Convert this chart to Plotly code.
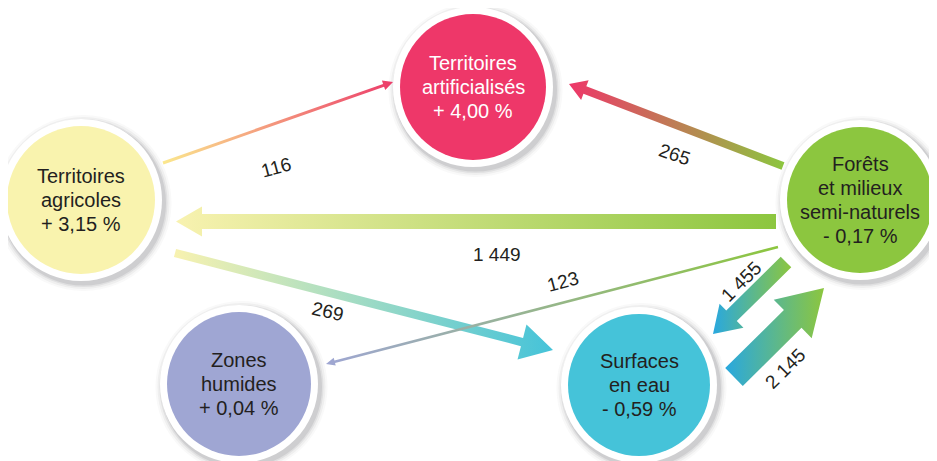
import math
import plotly.graph_objects as go

W, H = 937, 461
PAD = 8  # marge par défaut du <body> dans la page html

# --- données ---
node_names = [
    "Territoires<br>artificialisés",
    "Territoires<br>agricoles",
    "Forêts<br>et milieux<br>semi-naturels",
    "Zones<br>humides",
    "Surfaces<br>en eau",
]
node_change = [4.00, 3.15, -0.17, 0.04, -0.59]

# flux entre postes (indices dans node_names)
flow_src = [1, 2, 2, 1, 2, 2, 4]
flow_dst = [0, 0, 1, 4, 3, 4, 2]
flow_val = [116, 265, 1449, 269, 123, 1455, 2145]

# --- mise en page (pixels) ---
node_pos = [(473, 87), (81, 200), (860, 200), (239, 384), (639, 385)]
node_r = [73, 74, 73, 72, 71]
node_fill = ["#ee3769", "#f9f3ae", "#8cc63f", "#9fa6d3", "#45c3d9"]
node_font = ["white", "#231f20", "#231f20", "#231f20", "#231f20"]

# flèches : départ, pointe, largeur du trait, largeur / longueur de la tête
arrow_geom = [
    ((163, 163), (393, 82), 3, 10, 10),
    ((783, 166), (569, 84), 8, 21, 17),
    ((776, 221.5), (176, 221.5), 15, 30, 26),
    ((175, 253), (553, 350), 8.5, 36, 32),
    ((778, 247), (326, 364), 2.5, 8, 9),
    ((786, 262), (713, 334), 15, 34, 26),
    ((734, 377), (824, 288), 25, 54, 44),
]
arrow_colors = [
    ("#fbe88e", "#ec3d6a"),
    ("#8cc63f", "#ee3769"),
    ("#8cc63f", "#f8f2b0"),
    ("#f8f2b0", "#45c3d9"),
    ("#8cc63f", "#9fa6d3"),
    ("#8cc63f", "#29a8df"),
    ("#29a8df", "#8cc63f"),
]
label_pos = [(276, 167), (675, 154), (497, 254), (328, 311), (563, 281), (741, 281), (785, 368)]
label_angle = [-15, 19, 0, 13, -15, -45, -45]

FONT = "Liberation Sans, Arial, sans-serif"
INK = "#231f20"


def fmt_pct(v):
    sign = "+" if v >= 0 else "-"
    return f"{sign} {abs(v):.2f} %".replace(".", ",")


def fmt_int(v):
    return f"{v:,}".replace(",", " ")


def arrow_poly(start, tip, w, hw, hl):
    x0, y0 = start
    x1, y1 = tip
    L = math.hypot(x1 - x0, y1 - y0)
    ux, uy = (x1 - x0) / L, (y1 - y0) / L
    nx, ny = -uy, ux
    bx, by = x1 - ux * hl, y1 - uy * hl
    pts = [
        (x0 + nx * w / 2, y0 + ny * w / 2),
        (bx + nx * w / 2, by + ny * w / 2),
        (bx + nx * hw / 2, by + ny * hw / 2),
        (x1, y1),
        (bx - nx * hw / 2, by - ny * hw / 2),
        (bx - nx * w / 2, by - ny * w / 2),
        (x0 - nx * w / 2, y0 - ny * w / 2),
    ]
    pts.append(pts[0])
    return [p[0] for p in pts], [p[1] for p in pts]


def circle(cx, cy, r, color, dx=0, dy=0):
    return dict(type="circle", xref="x", yref="y", layer="below",
                x0=cx - r + dx, x1=cx + r + dx, y0=cy - r + dy, y1=cy + r + dy,
                fillcolor=color, line_width=0)


fig = go.Figure()
shapes = []
annotations = []

# cercles : ombre douce, anneau blanc, disque coloré
for (cx, cy), r, col in zip(node_pos, node_r, node_fill):
    for d, a in [(14, 0.03), (12, 0.05), (10, 0.08), (8.5, 0.10)]:
        shapes.append(circle(cx, cy, r + d, f"rgba(50,50,60,{a})", 2.5, 3))
    shapes.append(circle(cx, cy, r + 7, "white"))
    shapes.append(circle(cx, cy, r, col))

for name, chg, (cx, cy), fc in zip(node_names, node_change, node_pos, node_font):
    lines = name.split("<br>") + [fmt_pct(chg)]
    n = len(lines)
    for k, line in enumerate(lines):
        annotations.append(dict(x=cx, y=cy + (k - (n - 1) / 2) * 24, xref="x", yref="y",
                                showarrow=False, text=line,
                                font=dict(size=20, color=fc, family=FONT)))

# flèches en dégradé
for i, val in enumerate(flow_val):
    start, tip, w, hw, hl = arrow_geom[i]
    c0, c1 = arrow_colors[i]
    xs, ys = arrow_poly(start, tip, w, hw, hl)
    cs = [[0, c0], [1, c1]] if start[0] < tip[0] else [[0, c1], [1, c0]]
    fig.add_trace(go.Scatter(
        x=xs, y=ys, mode="lines", fill="toself",
        line=dict(width=0, color="rgba(0,0,0,0)"),
        fillgradient=dict(type="horizontal", colorscale=cs),
        hoverinfo="skip", showlegend=False,
    ))
    lx, ly = label_pos[i]
    annotations.append(dict(x=lx, y=ly, xref="x", yref="y", showarrow=False,
                            text=fmt_int(val), textangle=label_angle[i],
                            font=dict(size=19, color=INK, family=FONT)))

fig.update_layout(
    width=W - PAD, height=H - PAD,
    margin=dict(l=0, r=0, t=0, b=0),
    paper_bgcolor="white", plot_bgcolor="white",
    xaxis=dict(range=[PAD, W], visible=False, fixedrange=True),
    yaxis=dict(range=[H, PAD], visible=False, fixedrange=True),
    shapes=shapes, annotations=annotations,
    showlegend=False,
)

fig.write_html("out.html", config={"displayModeBar": False})
